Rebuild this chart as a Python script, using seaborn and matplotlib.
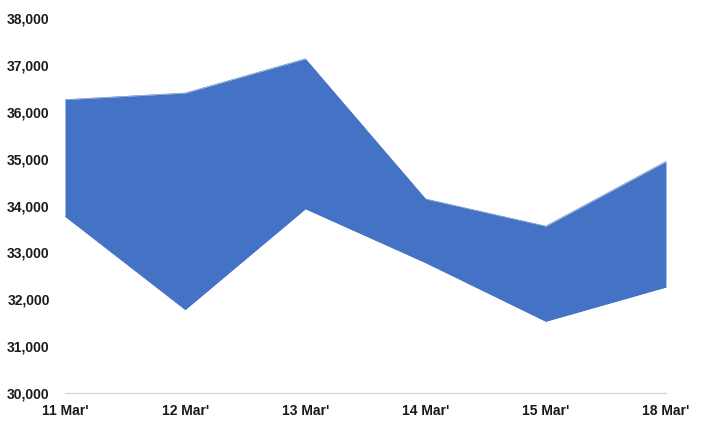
import matplotlib
matplotlib.use("Agg")
import matplotlib.pyplot as plt
import seaborn as sns
import pandas as pd
from matplotlib.ticker import FuncFormatter

# Data
dates = ["11 Mar'", "12 Mar'", "13 Mar'", "14 Mar'", "15 Mar'", "18 Mar'"]
upper = [36260, 36400, 37130, 34140, 33560, 34940]
lower = [33770, 31780, 33930, 32780, 31530, 32260]

df = pd.DataFrame({"date": dates, "upper": upper, "lower": lower})
df["pos"] = range(len(df))

sns.set_style("white")
plt.rcParams['font.family'] = ['Liberation Sans', 'DejaVu Sans']

color = "#4472C4"
fig = plt.figure(figsize=(7.01, 4.23), dpi=100)
ax = fig.add_axes([0.0927, 0.0709, 0.8573, 0.8865])

sns.lineplot(x="pos", y="upper", data=df, color=color, linewidth=0.4, ax=ax)
sns.lineplot(x="pos", y="lower", data=df, color=color, linewidth=0.4, ax=ax)
ax.fill_between(df["pos"], df["lower"], df["upper"], color=color, linewidth=0)

ax.set_xlim(0, len(dates) - 1)
ax.set_ylim(30000, 38000)
ax.set_yticks(range(30000, 38001, 1000))
ax.yaxis.set_major_formatter(FuncFormatter(lambda v, p: f"{int(v):,}"))
ax.set_xticks(df["pos"])
ax.set_xticklabels(dates)

ax.set_xlabel("")
ax.set_ylabel("")

for s in ["top", "right", "left"]:
    ax.spines[s].set_visible(False)
ax.spines["bottom"].set_color("#d9d9d9")
ax.spines["bottom"].set_linewidth(1)

ax.tick_params(axis="x", length=5, color="#d9d9d9", direction="out", pad=3,
               labelsize=10, labelcolor="#1a1a1a")
ax.tick_params(axis="y", length=0, pad=11, labelsize=10, labelcolor="#1a1a1a")
for lab in ax.get_xticklabels() + ax.get_yticklabels():
    lab.set_fontweight("bold")

fig.savefig("out.png", dpi=100)
